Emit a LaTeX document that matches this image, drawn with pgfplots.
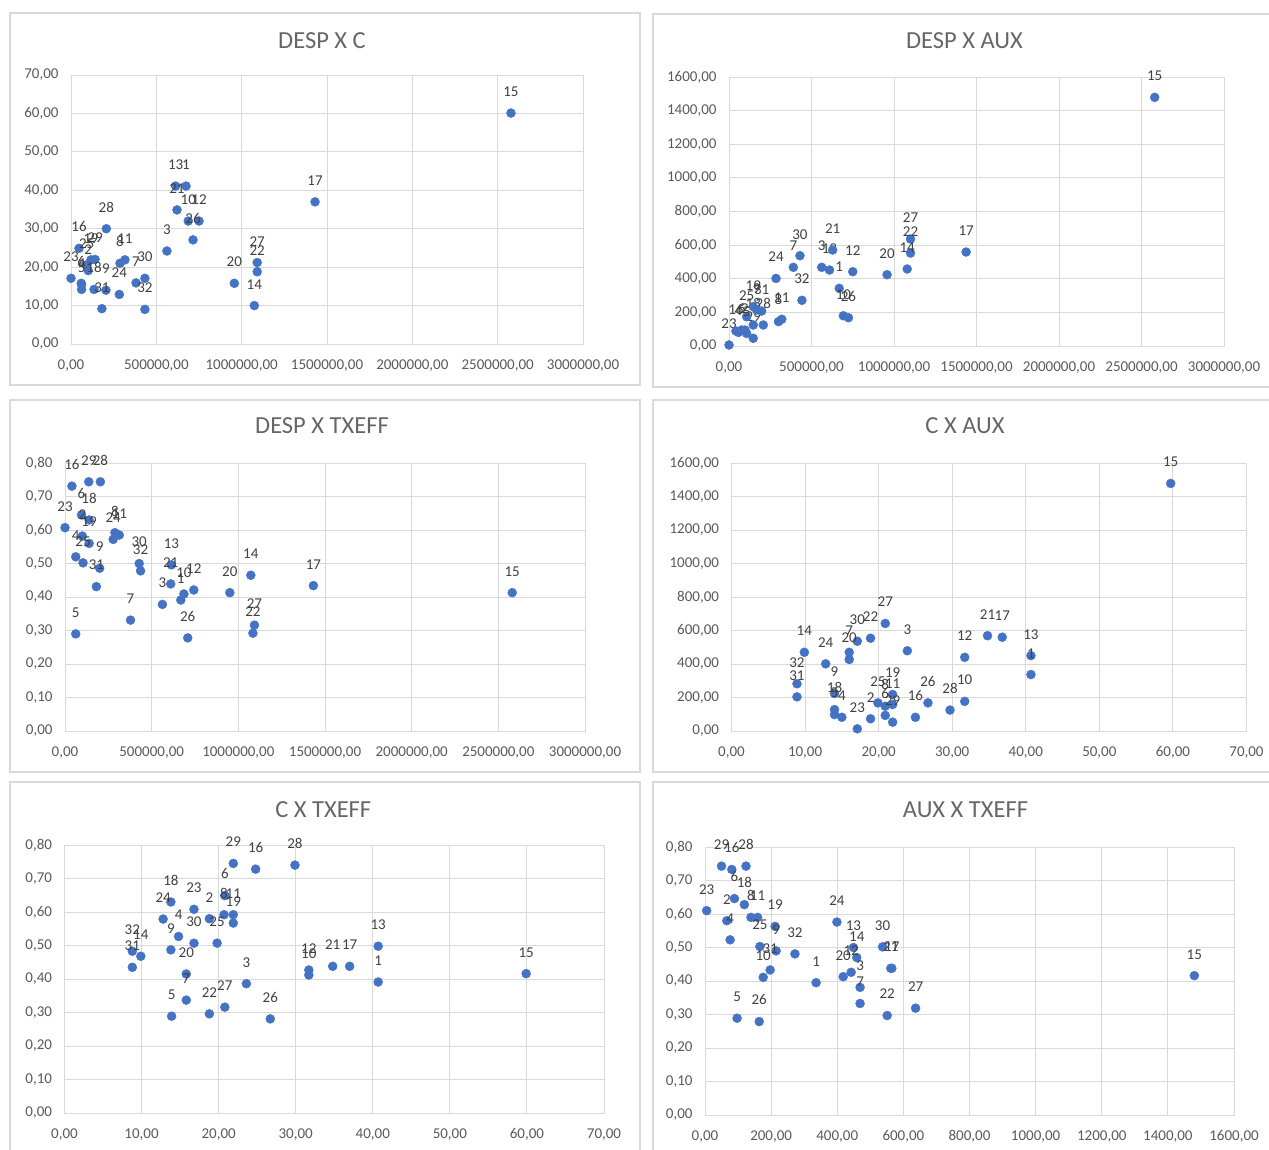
\documentclass[border=0pt]{standalone}
\usepackage{fontspec}
\setmainfont{Carlito}
\usepackage{pgfplots}
\pgfplotsset{compat=1.18}
\definecolor{mk}{HTML}{4472C4}
\definecolor{gridc}{HTML}{D9D9D9}
\definecolor{tickc}{HTML}{595959}
\definecolor{titc}{HTML}{666666}
\definecolor{labc}{HTML}{404040}
\pgfplotsset{
 excel/.style={
  scale only axis,
  axis line style={draw=gridc, line width=1pt},
  grid=major,
  major grid style={draw=gridc, line width=1pt},
  major tick length=0pt,
  scaled x ticks=false, scaled y ticks=false,
  tick label style={font=\fontsize{15}{18}\selectfont, text=tickc},
  xticklabel style={yshift=-12pt},
  yticklabel style={xshift=-9pt},
  title style={font=\fontsize{24.5}{28}\selectfont, text=titc, anchor=center, at={(0.5,1)}},
  nodes near coords,
  point meta=explicit symbolic,
  every node near coord/.append style={font=\fontsize{15}{18}\selectfont, text=labc, yshift=13pt},
  /pgf/number format/fixed,
  /pgf/number format/fixed zerofill,
  /pgf/number format/precision=2,
  /pgf/number format/use comma,
  /pgf/number format/1000 sep={},
  /pgf/number format/assume math mode=true,
 },
 pts/.style={only marks, mark=*, mark size=4.5pt, mark options={fill=mk, draw=mk}},
}
\begin{document}
\begin{tikzpicture}
\path[use as bounding box] (0,0) rectangle (1269pt,-1149pt);
\draw[gridc, line width=1.2pt] (10pt,-13pt) rectangle (640pt,-385pt);
\draw[gridc, line width=1.2pt] (653pt,-14pt) rectangle (1275pt,-387pt);
\draw[gridc, line width=1.2pt] (10pt,-400pt) rectangle (640pt,-772pt);
\draw[gridc, line width=1.2pt] (653pt,-400pt) rectangle (1275pt,-772pt);
\draw[gridc, line width=1.2pt] (10pt,-782pt) rectangle (640pt,-1160pt);
\draw[gridc, line width=1.2pt] (653pt,-782pt) rectangle (1275pt,-1160pt);

% DESP X C
\begin{axis}[excel, at={(71pt,-344pt)}, anchor=south west, width=512pt, height=269pt,
  xmin=0, xmax=3000000, ymin=0, ymax=70,
  xtick={0,500000,1000000,1500000,2000000,2500000,3000000}, ytick={0,10,20,30,40,50,60,70},
  title={DESP X C}, title style={xshift=-5pt, yshift=28pt}]
\addplot[pts] table[meta=l] {
x y l
0 17.1 23
47000 24.9 16
207000 30.0 28
141000 22.0 29
117000 21.9 19
101000 19.1 2
92000 20.6 25
60000 15.8 6
62000 15.4 4
62000 14.2 5
135000 14.2 18
205000 14.0 9
181000 9.2 31
287000 21.0 8
316000 21.9 11
283000 12.9 24
381000 15.9 7
433000 17.1 30
433000 9.0 32
562000 24.2 3
613000 41.1 13
674000 41.1 1
621000 34.9 21
687000 32.0 10
750000 32.0 12
715000 27.1 26
957000 15.8 20
1091000 21.2 27
1091000 18.8 22
1074000 10.0 14
1430000 37.0 17
2578000 60.1 15
};
\end{axis}

% DESP X AUX
\begin{axis}[excel, at={(729pt,-346pt)}, anchor=south west, width=495pt, height=269pt,
  xmin=0, xmax=3000000, ymin=0, ymax=1600,
  xtick={0,500000,1000000,1500000,2000000,2500000,3000000}, ytick={0,200,400,600,800,1000,1200,1400,1600},
  title={DESP X AUX}, title style={xshift=-12pt, yshift=30pt}]
\addplot[pts] table[meta=l] {
x y l
0 6 23
430000 537 30
390000 468 7
285000 402 24
442000 272 32
562000 468 3
609000 452 13
628000 571 21
668000 343 1
750000 442 12
693000 180 10
724000 168 26
300000 145 8
320000 159 11
147000 46 29
208000 125 28
147000 125 18
147000 234 19
168000 214 9
198000 208 31
107000 174 25
42000 89 16
77000 95 6
97000 95 2
57000 81 4
107000 75 5
958000 424 20
1100000 636 27
1100000 553 22
1080000 458 14
1437000 559 17
2580000 1479 15
};
\end{axis}

% DESP X TXEFF
\begin{axis}[excel, at={(65pt,-731pt)}, anchor=south west, width=520pt, height=268pt,
  xmin=0, xmax=3000000, ymin=0, ymax=0.8,
  xtick={0,500000,1000000,1500000,2000000,2500000,3000000}, ytick={0,0.1,0.2,0.3,0.4,0.5,0.6,0.7,0.8},
  title={DESP X TXEFF}, title style={xshift=-3pt, yshift=31pt}]
\addplot[pts] table[meta=l] {
x y l
40000 0.731 16
137000 0.744 29
204000 0.744 28
0 0.607 23
95000 0.645 6
139000 0.630 18
100000 0.582 2
139000 0.560 19
62000 0.520 4
104000 0.502 25
200000 0.486 9
181000 0.431 31
288000 0.592 8
313000 0.585 11
278000 0.572 24
428000 0.500 30
436000 0.478 32
378000 0.331 7
62000 0.290 5
614000 0.496 13
610000 0.439 21
562000 0.378 3
668000 0.391 1
686000 0.409 10
743000 0.421 12
708000 0.278 26
951000 0.413 20
1072000 0.465 14
1093000 0.316 27
1084000 0.292 22
1433000 0.434 17
2580000 0.413 15
};
\end{axis}

% C X AUX
\begin{axis}[excel, at={(731.5pt,-731pt)}, anchor=south west, width=515pt, height=268pt,
  xmin=0, xmax=70, ymin=0, ymax=1600,
  xtick={0,10,20,30,40,50,60,70}, ytick={0,200,400,600,800,1000,1200,1400,1600},
  title={C X AUX}, title style={xshift=-24pt, yshift=31pt}]
\addplot[pts] table[meta=l] {
x y l
9.9 470 14
8.9 282 32
8.9 204 31
12.8 401 24
17.1 536 30
16.0 470 7
16.0 427 20
18.9 554 22
20.9 642 27
23.9 479 3
14.0 224 9
14.0 128 18
14.0 98 5
15.0 82 4
17.1 13 23
18.9 73 2
19.9 168 25
21.9 218 19
21.9 158 11
20.9 93 6
20.9 148 8
21.9 53 29
25.0 82 16
26.7 168 26
29.7 125 28
31.7 177 10
31.7 440 12
34.8 569 21
36.8 560 17
40.7 450 13
40.7 337 1
59.7 1478 15
};
\end{axis}

% C X TXEFF
\begin{axis}[excel, at={(64.5pt,-1113pt)}, anchor=south west, width=539.5pt, height=268pt,
  xmin=0, xmax=70, ymin=0, ymax=0.8,
  xtick={0,10,20,30,40,50,60,70}, ytick={0,0.1,0.2,0.3,0.4,0.5,0.6,0.7,0.8},
  title={C X TXEFF}, title style={xshift=-11pt, yshift=29pt}]
\addplot[pts] table[meta=l] {
x y l
21.9 0.745 29
24.8 0.728 16
29.9 0.740 28
20.8 0.649 6
13.8 0.630 18
12.8 0.579 24
16.8 0.608 23
18.8 0.580 2
20.7 0.592 8
21.9 0.592 11
21.9 0.567 19
14.8 0.527 4
16.8 0.507 30
19.8 0.507 25
13.8 0.487 9
8.8 0.483 32
9.9 0.468 14
8.8 0.435 31
15.8 0.415 20
15.8 0.337 7
23.6 0.386 3
13.9 0.289 5
18.8 0.296 22
20.8 0.316 27
26.7 0.281 26
31.7 0.427 12
31.7 0.412 10
34.8 0.438 21
37.0 0.438 17
40.7 0.498 13
40.7 0.391 1
59.9 0.416 15
};
\end{axis}

% AUX X TXEFF
\begin{axis}[excel, at={(705pt,-1115pt)}, anchor=south west, width=529pt, height=268pt,
  xmin=0, xmax=1600, ymin=0, ymax=0.8,
  xtick={0,200,400,600,800,1000,1200,1400,1600}, ytick={0,0.1,0.2,0.3,0.4,0.5,0.6,0.7,0.8},
  title={AUX X TXEFF}, title style={xshift=-4pt, yshift=31pt}]
\addplot[pts] table[meta=l] {
x y l
50 0.743 29
81 0.733 16
124 0.743 28
5 0.610 23
89 0.646 6
119 0.628 18
66 0.580 2
76 0.523 4
139 0.590 8
159 0.590 11
212 0.563 19
166 0.503 25
215 0.490 9
272 0.481 32
197 0.433 31
176 0.411 10
336 0.395 1
399 0.576 24
449 0.500 13
459 0.470 14
418 0.413 20
442 0.426 12
469 0.381 3
469 0.333 7
97 0.289 5
164 0.279 26
537 0.502 30
562 0.438 21
565 0.438 17
551 0.297 22
637 0.319 27
1480 0.416 15
};
\end{axis}
\end{tikzpicture}
\end{document}
